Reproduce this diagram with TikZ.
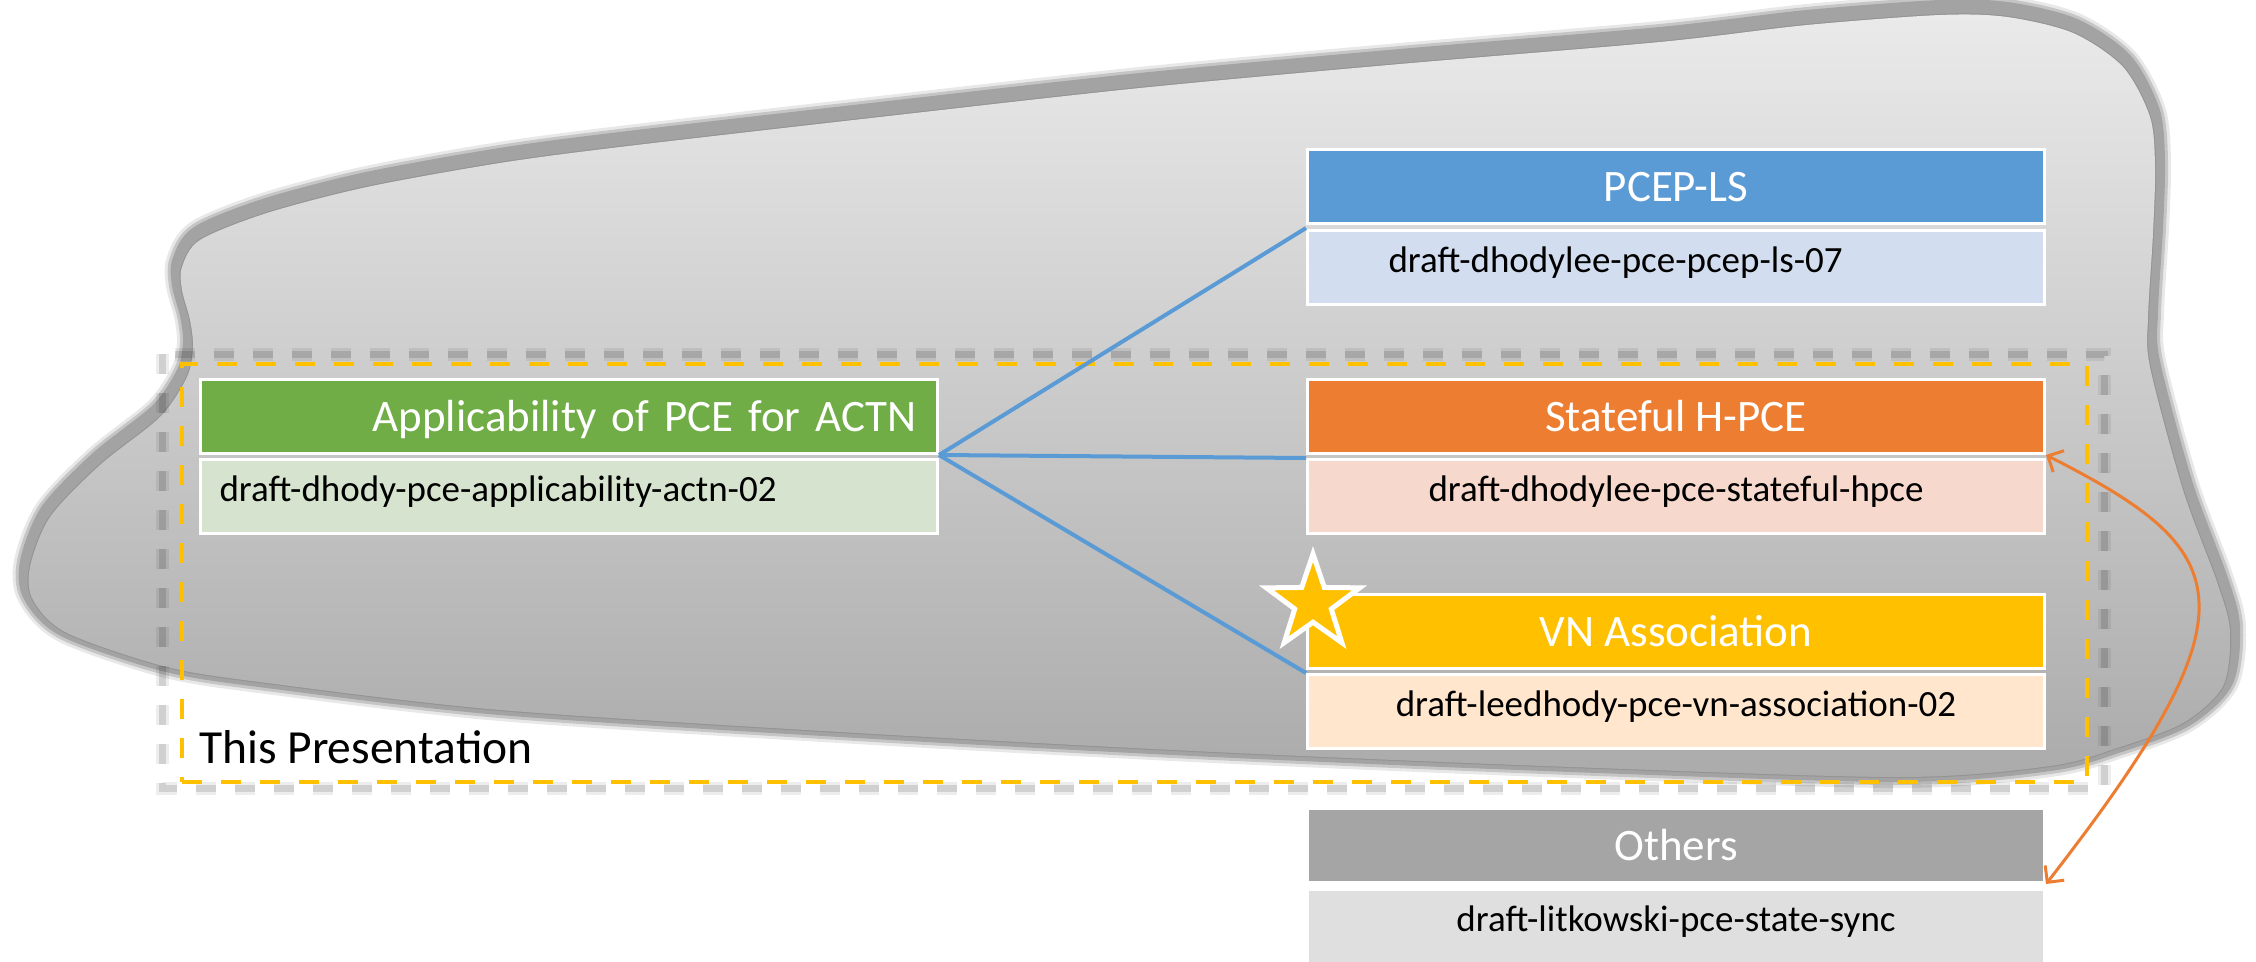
\documentclass[tikz,border=0pt]{standalone}
\usepackage{fontspec}
\setmainfont{Carlito}
\usetikzlibrary{shapes.geometric,arrows.meta}
\definecolor{cgreen}{HTML}{70AD47}
\definecolor{cgreenl}{HTML}{D6E3CE}
\definecolor{cblue}{HTML}{5B9BD5}
\definecolor{cbluel}{HTML}{D2DEEF}
\definecolor{corange}{HTML}{ED7D31}
\definecolor{corangel}{HTML}{F7D8CD}
\definecolor{cgold}{HTML}{FFC000}
\definecolor{cgoldl}{HTML}{FFE6CD}
\definecolor{cgray}{HTML}{A5A5A5}
\definecolor{cgrayl}{HTML}{DFDFDF}
\definecolor{blobtop}{HTML}{EAEAEA}
\definecolor{blobbot}{HTML}{ABABAB}
\definecolor{blobedge}{HTML}{A3A3A3}
\begin{document}
\begin{tikzpicture}[x=1pt,y=-1pt,
  hdr/.style={rectangle, anchor=north west, draw=white, line width=3pt, minimum width=737pt, minimum height=74pt, inner sep=0pt, text=white, font=\fontsize{45}{54}\selectfont, text height=30pt, text depth=0pt},
  sub/.style={rectangle, anchor=north west, draw=white, line width=3pt, minimum width=737pt, minimum height=74pt, inner sep=0pt, text=black, font=\fontsize{37}{44}\selectfont, text height=10pt, text depth=0pt},
  link/.style={draw=cblue, line width=4pt},
  sync/.style={draw=corange, line width=3pt, {Straight Barb[length=12pt,width=24pt,line width=3pt]}-{Straight Barb[length=12pt,width=24pt,line width=3pt]}},
  frame/.style={rectangle, anchor=north west, draw=cgold, line width=4pt, dash pattern=on 20pt off 19pt, inner sep=0pt},
  frameshadow/.style={black, dash pattern=on 20pt off 19pt}
]
\useasboundingbox (0,0) rectangle (2256,961);
\def\blob{plot[smooth cycle, tension=0.5] coordinates {(1940,15) (2007,17) (2073,33) (2123,67) (2150,117) (2155,167) (2153,233) (2148,317) (2150,367) (2183,490) (2217,582) (2230,631) (2223,686) (2183,723) (2117,748) (2050,766) (1900,777) (1571,767) (1214,752) (857,733) (500,710) (267,683) (167,667) (67,633) (33,600) (30,567) (50,517) (100,465) (160,417) (187,377) (193,347) (190,320) (182,290) (182,267) (200,240) (267,213) (367,187) (500,163) (620,147) (880,117) (1140,88) (1400,64) (1660,42) (1807,25)}}
% blob with soft outline (shifted up, like a glow)
\begin{scope}[yshift=5pt]
\draw[blobedge, opacity=0.25, line width=32pt, line join=round] \blob;
\draw[blobedge, opacity=0.5, line width=26pt, line join=round] \blob;
\draw[blobedge, line width=20pt, line join=round] \blob;
\end{scope}
\draw[blobedge!90!black, line width=2pt] \blob;
\shade[top color=blobtop, bottom color=blobbot] \blob;
% frame shadow and frame
\draw[frameshadow, opacity=0.07, line width=13pt] (162,354) rectangle (2104,788);
\draw[frameshadow, opacity=0.12, line width=7pt] (162,354) rectangle (2104,788);
\node[frame, minimum width=1905pt, minimum height=418pt] (thispres) at (180,362) {};
\node[anchor=base west, inner sep=0pt, font=\fontsize{47.5}{57}\selectfont] (thislabel) at (199,763) {This Presentation};
% boxes
\node[hdr, fill=cgreen, text width=695pt, align=right] (apphd) at (199,378) {Applicability of PCE for ACTN};
\node[sub, fill=cgreenl, text width=699pt, align=left] (appsub) at (199,458) {draft-dhody-pce-applicability-actn-02};
\node[hdr, fill=cblue] (pcephd) at (1306,148) {PCEP-LS};
\node[sub, fill=cbluel, text width=575pt, align=left] (pcepsub) at (1306,229) {draft-dhodylee-pce-pcep-ls-07};
\node[hdr, fill=corange] (statehd) at (1306,378) {Stateful H-PCE};
\node[sub, fill=corangel] (statesub) at (1306,458) {draft-dhodylee-pce-stateful-hpce};
\node[hdr, fill=cgold] (vnhd) at (1306,593) {VN Association};
\node[sub, fill=cgoldl] (vnsub) at (1306,673) {draft-leedhody-pce-vn-association-02};
\node[hdr, fill=cgray] (othhd) at (1306,807) {Others};
\node[sub, fill=cgrayl] (othsub) at (1306,888) {draft-litkowski-pce-state-sync};
% links
\draw[link] (apphd.south east) -- ([yshift=-3pt]pcephd.south west);
\draw[link] (apphd.south east) -- ([yshift=-3pt]statehd.south west);
\draw[link] (apphd.south east) -- ([yshift=-3pt]vnhd.south west);
\draw[sync] (statehd.south east) .. controls (2235,551) and (2263,605) .. (othhd.south east);
% star
\node[star, star points=5, star point ratio=2.55, minimum size=98pt, inner sep=0pt, fill=cgold, draw=white, line width=5pt] (star) at (1313,603) {};
\end{tikzpicture}
\end{document}
